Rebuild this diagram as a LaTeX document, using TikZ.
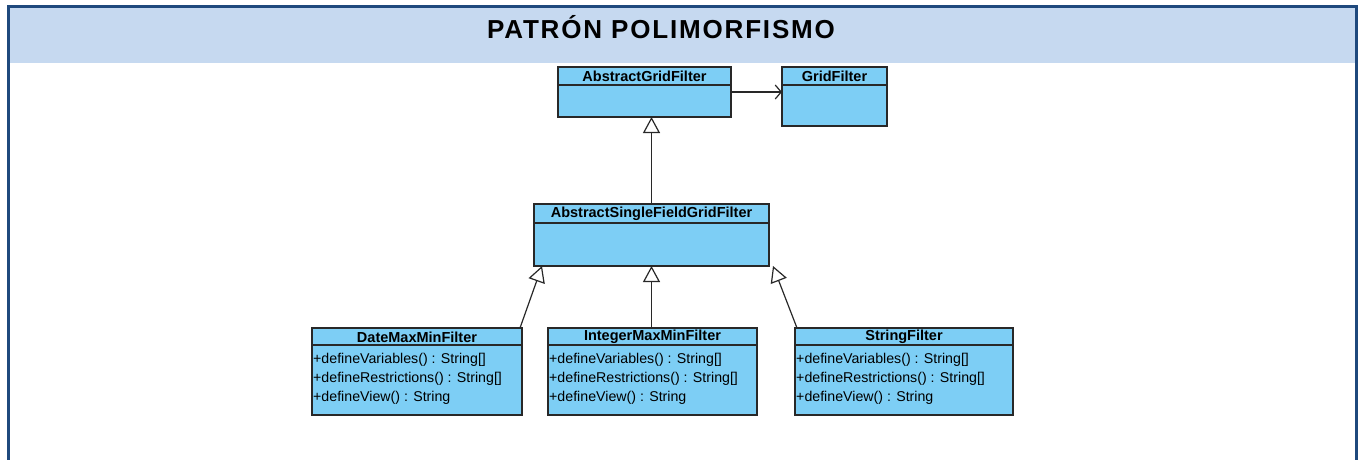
\documentclass[tikz,border=0pt]{standalone}
\usepackage{fontspec}
\setmainfont{Liberation Sans}
\usetikzlibrary{arrows.meta,calc}

\definecolor{frameblue}{RGB}{31,73,125}
\definecolor{bandblue}{RGB}{198,217,240}
\definecolor{classfill}{RGB}{125,206,245}
\definecolor{classline}{RGB}{40,40,40}

\tikzset{
  cls/.style={draw=classline, fill=classfill, line width=1.1pt, anchor=north west,
    inner sep=0pt, outer sep=0pt},
  clsname/.style={font=\fontsize{14.5}{16}\selectfont\bfseries, anchor=center, inner sep=0pt},
  member/.style={font=\fontsize{14.2}{16}\selectfont, anchor=west, inner sep=0pt},
  sep/.style={draw=classline, line width=1.1pt},
  inherit/.style={draw=classline, line width=1.2pt,
    -{Triangle[open, length=16pt, width=17pt, fill=white]}},
  assoc/.style={draw=classline, line width=1.2pt,
    -{Straight Barb[length=6pt, width=14pt, line width=1.2pt]}},
}

\begin{document}
\begin{tikzpicture}[x=1pt, y=-1pt]
\useasboundingbox (0,0) rectangle (1363,460);

% frame and title band
\fill[bandblue] (8,7) rectangle (1356,63);
\draw[frameblue, line width=3pt] (8,460) -- (8,7) -- (1356,7) -- (1356,460);
\node[font=\fontsize{26}{28}\selectfont\bfseries\addfontfeature{LetterSpace=7}, anchor=base]
  (title) at (661,38.5) {PATRÓN POLIMORFISMO};

% classes
\node[cls, minimum width=173pt, minimum height=50pt] (agf) at (558,67) {};
\draw[sep] ($(agf.north west)+(0,18)$) -- ($(agf.north east)+(0,18)$);
\node[clsname] (agfn) at ($(agf.north)+(0,9)$) {AbstractGridFilter};

\node[cls, minimum width=105pt, minimum height=59pt] (gf) at (782,67) {};
\draw[sep] ($(gf.north west)+(0,18)$) -- ($(gf.north east)+(0,18)$);
\node[clsname] (gfn) at ($(gf.north)+(0,9)$) {GridFilter};

\node[cls, minimum width=235pt, minimum height=62pt] (asf) at (534,204) {};
\draw[sep] ($(asf.north west)+(0,19)$) -- ($(asf.north east)+(0,19)$);
\node[clsname] (asfn) at ($(asf.north)+(0,9.5)$) {AbstractSingleFieldGridFilter};

% concrete filters
\foreach \id/\x/\w/\name in {dmm/312/210/DateMaxMinFilter,
                             imm/548/209/IntegerMaxMinFilter,
                             sf/795/218/StringFilter}{
  \node[cls, minimum width=\w pt, minimum height=87pt] (\id) at (\x,328) {};
  \draw[sep] ($(\id.north west)+(0,17)$) -- ($(\id.north east)+(0,17)$);
  \node[clsname] (\id n) at ($(\id.north)+(0,9)$) {\name};
  \node[member] (\id m1) at ($(\id.north west)+(1,31.5)$) {+defineVariables() : String[]};
  \node[member] (\id m2) at ($(\id.north west)+(1,50.5)$) {+defineRestrictions() : String[]};
  \node[member] (\id m3) at ($(\id.north west)+(1,69.5)$) {+defineView() : String};
}

% relations
\draw[assoc] ($(agf.north east)+(0,25)$) -- ($(gf.north west)+(0,25)$);
\draw[inherit] (asf.north) -- (asf.north |- agf.south);
\draw[inherit] ($(dmm.north east)+(-2,0)$) -- ($(asf.south west)+(8,0)$);
\draw[inherit] (imm.north -| asf.south) -- (asf.south);
\draw[inherit] ($(sf.north west)+(2,0)$) -- ($(asf.south east)+(4,0)$);
\end{tikzpicture}
\end{document}
